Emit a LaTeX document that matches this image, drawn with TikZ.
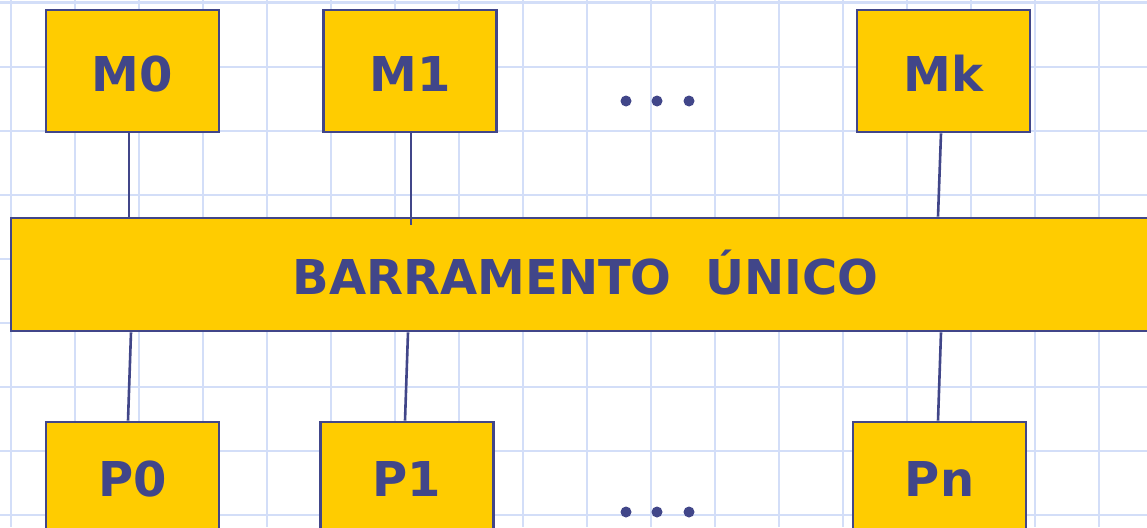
\documentclass[tikz,border=0pt]{standalone}
\usepackage{fontspec}
\setmainfont{DejaVu Sans}
\definecolor{gridblue}{HTML}{D3DEF8}
\definecolor{ink}{HTML}{414689}
\definecolor{gold}{HTML}{FFCC00}
\begin{document}
\begin{tikzpicture}[x=1pt,y=-1pt,
  unit/.style={draw=ink, line width=2.6pt, fill=gold, text=ink, font=\fontsize{48}{56}\selectfont\bfseries, text height=40pt, text depth=0pt, inner sep=0pt, minimum width=173pt, minimum height=122pt},
  link/.style={draw=ink, line width=2.6pt}]
\clip (0,0) rectangle (1147,527);
\fill[white] (0,0) rectangle (1147,527);
% background grid
\foreach \x in {11,75,...,1147} \draw[gridblue, line width=2.4pt] (\x,0) -- (\x,527);
\foreach \y in {2.7,66.7,...,527} \draw[gridblue, line width=2.4pt] (0,\y) -- (1147,\y);
% memories
\node[unit] (m0) at (132.5,71) {M0};
\node[unit] (m1) at (410,71) {M1};
\node[unit] (mk) at (943.5,71) {Mk};
% bus
\node[unit, minimum width=1149pt, minimum height=113pt] (bus) at (585.5,274.5) {BARRAMENTO\ \ ÚNICO};
% processors
\node[unit, minimum height=108pt] (p0) at (132.5,476) {P0};
\node[unit, minimum height=108pt] (p1) at (407,476) {P1};
\node[unit, minimum height=108pt] (pn) at (939.5,476) {Pn};
\draw[link] ([xshift=-3.5pt]m0.south) -- ([xshift=-3.5pt]m0.south |- bus.north);
\draw[link] ([xshift=1pt]m1.south) -- ([xshift=1pt,yshift=-8pt]m1.south |- bus.north);
\draw[link] ([xshift=-2.5pt]mk.south) -- ([xshift=-5.5pt]mk.south |- bus.north);
\draw[link] ([xshift=-1.5pt]p0.north |- bus.south) -- ([xshift=-4.5pt]p0.north);
\draw[link] ([xshift=1pt]p1.north |- bus.south) -- ([xshift=-2pt]p1.north);
\draw[link] ([xshift=1.5pt]pn.north |- bus.south) -- ([xshift=-1.5pt]pn.north);
% ellipsis dots
\foreach \x in {626,657,689} {
  \fill[ink] (\x,101) circle (5.5pt);
  \fill[ink] (\x,512) circle (5.5pt);
}
\end{tikzpicture}
\end{document}
